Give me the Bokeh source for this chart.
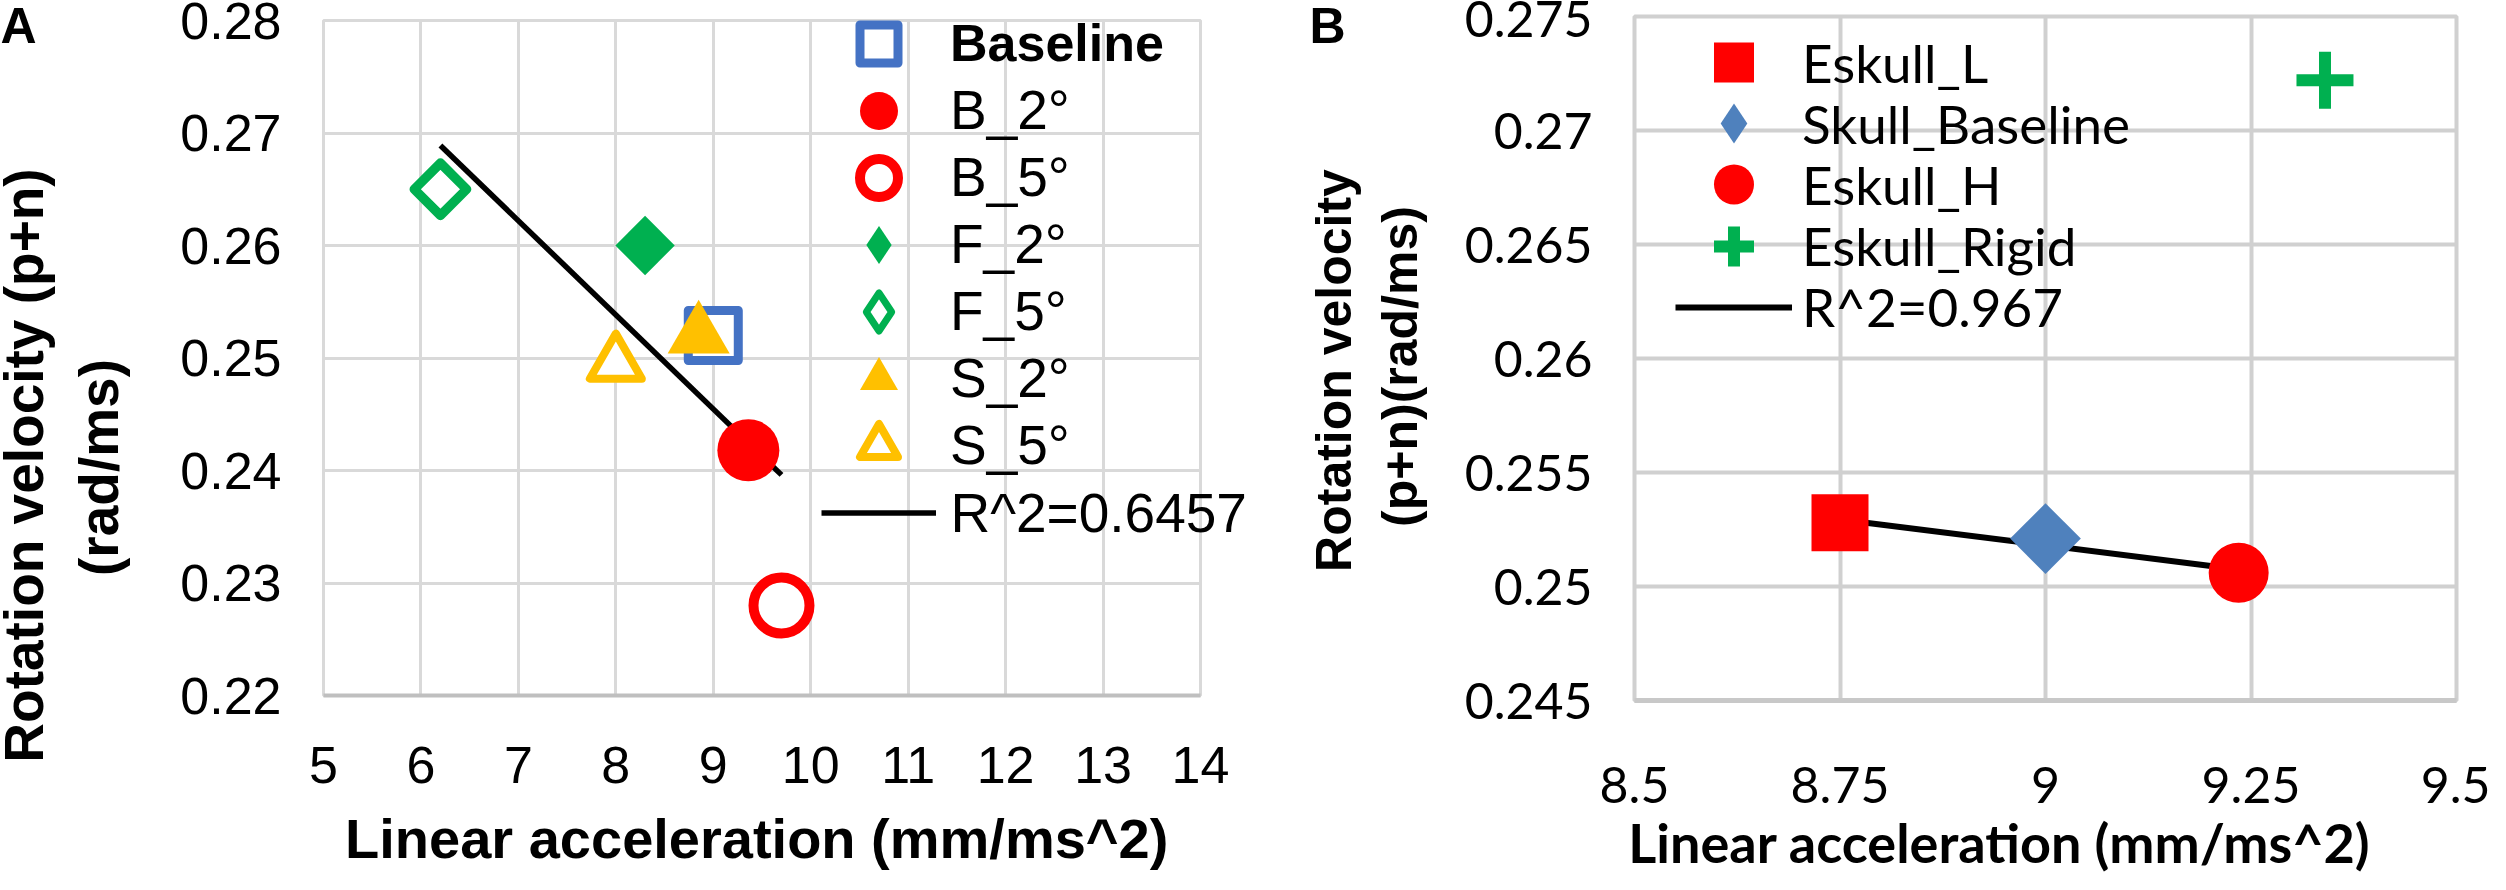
import numpy as np
from bokeh.plotting import figure
from bokeh.models import (Range1d, FixedTicker, CustomJSTickFormatter, Legend,
                          LegendItem, Label, GridBox)
from bokeh.embed import file_html
from bokeh.resources import INLINE

# ---------------- data: panel A ----------------
a_names = ["Baseline", "B_2°", "B_5°", "F_2°", "F_5°", "S_2°", "S_5°"]
a_accel = [9.0, 9.36, 9.7, 8.3, 6.2, 8.85, 8.0]
a_velocity = [0.252, 0.2418, 0.228, 0.260, 0.265, 0.252, 0.2495]
a_fit_label = "R^2=0.6457"
a_x_ticks = [5, 6, 7, 8, 9, 10, 11, 12, 13, 14]
a_y_ticks = [0.22, 0.23, 0.24, 0.25, 0.26, 0.27, 0.28]

# ---------------- data: panel B ----------------
b_names = ["Eskull_L", "Skull_Baseline", "Eskull_H", "Eskull_Rigid"]
b_accel = [8.75, 9.0, 9.235, 9.34]
b_velocity = [0.2528, 0.2521, 0.2506, 0.2722]
b_fit_names = ["Eskull_L", "Skull_Baseline", "Eskull_H"]
b_fit_label = "R^2=0.967"
b_x_ticks = [8.5, 8.75, 9.0, 9.25, 9.5]
b_y_ticks = [0.245, 0.25, 0.255, 0.26, 0.265, 0.27, 0.275]

# ---------------- styles ----------------
BLUE_A, RED, GREEN, GOLD, BLUE_B = "#4472C4", "#FF0000", "#00B050", "#FFC000", "#4F81BD"
A_STYLE = {
    "Baseline": dict(marker="square", size=50, line_color=BLUE_A, fill_color="white", line_width=9, line_join="round"),
    "B_2°": dict(marker="circle", size=62, fill_color=RED, line_color=None),
    "B_5°": dict(marker="circle", size=56, fill_color="white", line_color=RED, line_width=10),
    "F_2°": dict(marker="square", size=42, angle=np.pi / 4, fill_color=GREEN, line_color=None),
    "F_5°": dict(marker="square", size=37, angle=np.pi / 4, fill_color="white", line_color=GREEN, line_width=9.5, line_join="round"),
    "S_2°": dict(marker="triangle", size=62, fill_color=GOLD, line_color=None),
    "S_5°": dict(marker="triangle", size=52, fill_color="white", line_color=GOLD, line_width=8, line_join="round"),
}
# diamond-shaped key glyphs (drawn under the rotated squares, so only the legend shows them)
A_KEY_STYLE = {
    "F_2°": dict(marker="diamond", size=40, fill_color=GREEN, line_color=None),
    "F_5°": dict(marker="diamond", size=40, fill_color="white", line_color=GREEN, line_width=7, line_join="round"),
}
B_STYLE = {
    "Eskull_L": dict(marker="square", size=57, fill_color=RED, line_color=None),
    "Skull_Baseline": dict(marker="square", size=50, angle=np.pi / 4, fill_color=BLUE_B, line_color=None),
    "Eskull_H": dict(marker="circle", size=60, fill_color=RED, line_color=None),
    "Eskull_Rigid": dict(marker="cross", size=57, line_color=GREEN, line_width=12),
}
B_KEY_STYLE = {
    "Skull_Baseline": dict(marker="diamond", size=40, fill_color=BLUE_B, line_color=None),
}

FONT_A = "Liberation Sans"
FONT_B = "Lato"
PAGE_W, PAGE_H, MARGIN = 2490, 874, 8


def no_frame_align(f):
    if "frame_align" in f.properties():
        f.frame_align = False


def style_axes(p, font, size, xstand, ystand, grid_color, grid_w, xticks, yticks, xline_color, xline_w):
    tick_fmt = CustomJSTickFormatter(code="return tick.toString();")
    p.xaxis.ticker = FixedTicker(ticks=xticks)
    p.yaxis.ticker = FixedTicker(ticks=yticks)
    p.xgrid.ticker = FixedTicker(ticks=xticks)
    p.ygrid.ticker = FixedTicker(ticks=yticks)
    for ax in p.axis:
        ax.formatter = tick_fmt
        ax.major_tick_line_color = None
        ax.minor_tick_line_color = None
        ax.major_tick_out = 0
        ax.major_tick_in = 0
        ax.minor_tick_out = 0
        ax.minor_tick_in = 0
        ax.major_label_text_font = font
        ax.major_label_text_font_size = size
        ax.major_label_text_color = "#000000"
    p.xaxis.major_label_standoff = xstand
    p.yaxis.major_label_standoff = ystand
    p.yaxis.axis_line_color = None
    p.xaxis.axis_line_color = xline_color
    p.xaxis.axis_line_width = xline_w
    for g in (p.xgrid, p.ygrid):
        g.grid_line_color = grid_color
        g.grid_line_width = grid_w
    p.outline_line_color = grid_color
    p.outline_line_width = grid_w
    p.background_fill_color = "white"
    p.border_fill_color = "white"


def legend_row(fig, frame_left_abs, frame_bottom_abs, label, renderer, left_abs, yc_abs,
               gw, gh, standoff, font, size, style="normal"):
    fig.add_layout(Legend(items=[LegendItem(label=label, renderers=[renderer])],
                          location=(left_abs - frame_left_abs, frame_bottom_abs - (yc_abs + gh / 2)),
                          glyph_width=gw, glyph_height=gh, label_standoff=standoff,
                          padding=0, margin=0, spacing=0, border_line_color=None,
                          background_fill_alpha=0, label_text_font=font, label_text_font_size=size,
                          label_text_font_style=style, label_text_color="#000000"))


# ======================= Panel A =======================
A_LEFT, A_RIGHT, A_TOP, A_BOTTOM = 323, 72, 20, 179
pa = figure(width=1272, height=PAGE_H, x_range=Range1d(5, 14), y_range=Range1d(0.22, 0.28),
            output_backend="svg", toolbar_location=None,
            min_border_left=A_LEFT, min_border_right=A_RIGHT, min_border_top=A_TOP, min_border_bottom=A_BOTTOM)
no_frame_align(pa)
style_axes(pa, FONT_A, "52px", 51, 42, "#d9d9d9", 3, a_x_ticks, a_y_ticks, "#bfbfbf", 4)

fit_a = np.polyfit(a_accel, a_velocity, 1)
fx_a = [min(a_accel), max(a_accel)]
trend_a = pa.line(fx_a, list(np.polyval(fit_a, fx_a)), line_color="black", line_width=5.5)
a_key = {}
for name, xv, yv in zip(a_names, a_accel, a_velocity):
    if name in A_KEY_STYLE:
        a_key[name] = pa.scatter([xv], [yv], **A_KEY_STYLE[name])
    r = pa.scatter([xv], [yv], **A_STYLE[name])
    a_key.setdefault(name, r)

fl_a, fb_a = MARGIN + A_LEFT, MARGIN + PAGE_H - A_BOTTOM
A_ROW0, A_PITCH = 51, 67
for k, name in enumerate(a_names):
    legend_row(pa, fl_a, fb_a, name, a_key[name], 829, A_ROW0 + A_PITCH * k, 115, 95, 14, FONT_A,
               "52px" if k == 0 else "55px", "bold" if k == 0 else "normal")
legend_row(pa, fl_a, fb_a, " ", trend_a, 829, A_ROW0 + A_PITCH * len(a_names), 115, 95, 14, FONT_A, "55px")

# ======================= Panel B =======================
B_LEFT, B_RIGHT, B_TOP, B_BOTTOM = 362, 34, 16, 174
pb = figure(width=1218, height=PAGE_H, x_range=Range1d(8.5, 9.5), y_range=Range1d(0.245, 0.275),
            output_backend="svg", toolbar_location=None,
            min_border_left=B_LEFT, min_border_right=B_RIGHT, min_border_top=B_TOP, min_border_bottom=B_BOTTOM)
no_frame_align(pb)
style_axes(pb, FONT_B, "50px", 66, 42, "#d0d0d0", 4, b_x_ticks, b_y_ticks, "#c8c8c8", 5)

fit_idx = [b_names.index(n) for n in b_fit_names]
fxs_b = [b_accel[i] for i in fit_idx]
fys_b = [b_velocity[i] for i in fit_idx]
fit_b = np.polyfit(fxs_b, fys_b, 1)
fx_b = [min(fxs_b), max(fxs_b)]
trend_b = pb.line(fx_b, list(np.polyval(fit_b, fx_b)), line_color="black", line_width=6)
b_key = {}
for name, xv, yv in zip(b_names, b_accel, b_velocity):
    if name in B_KEY_STYLE:
        b_key[name] = pb.scatter([xv], [yv], **B_KEY_STYLE[name])
    r = pb.scatter([xv], [yv], **B_STYLE[name])
    b_key.setdefault(name, r)

fl_b, fb_b = MARGIN + 1272 + B_LEFT, MARGIN + PAGE_H - B_BOTTOM
B_ROW0, B_PITCH = 70, 61.2
for k, name in enumerate(b_names):
    legend_row(pb, fl_b, fb_b, name, b_key[name], 1683, B_ROW0 + B_PITCH * k, 117, 100, 10, FONT_B, "53px")
legend_row(pb, fl_b, fb_b, b_fit_label, trend_b, 1683, B_ROW0 + B_PITCH * len(b_names), 117, 100, 10, FONT_B, "53px")

# ============ transparent overlay for titles and panel letters ============
po = figure(width=PAGE_W, height=PAGE_H, x_range=Range1d(0, 1), y_range=Range1d(0, 1),
            x_axis_type=None, y_axis_type=None, min_border=0, toolbar_location=None,
            output_backend="svg", outline_line_color=None,
            background_fill_alpha=0, border_fill_alpha=0)
no_frame_align(po)


def text(t, x_abs, y_abs, font, size, style="normal", angle=0.0, align="center"):
    po.add_layout(Label(x=x_abs - MARGIN, y=PAGE_H + MARGIN - y_abs, x_units="screen", y_units="screen",
                        text=t, angle=angle, text_align=align, text_baseline="middle",
                        text_font=font, text_font_size=size, text_font_style=style,
                        text_color="#000000"))


# panel A texts
text("A", 26, 33, FONT_A, "50px", "bold")
text("Rotation velocity (p+n)", 31, 473, FONT_A, "55px", "bold", np.pi / 2)
text("(rad/ms)", 106, 475, FONT_A, "55px", "bold", np.pi / 2)
text("Linear acceleration  (mm/ms^2)", 772, 846, FONT_A, "56px", "bold")
text(a_fit_label, 958, A_ROW0 + A_PITCH * len(a_names), FONT_A, "55px", align="left")

# panel B texts
text("B", 1335, 33, FONT_A, "50px", "bold")
text("Rotation velocity", 1341, 378, FONT_A, "50px", "bold", np.pi / 2)
text("(p+n)(rad/ms)", 1407, 374, FONT_A, "50px", "bold", np.pi / 2)
text("Linear acceleration (mm/ms^2)", 2007, 850, FONT_B, "54px", "bold")

layout = GridBox(children=[(pa, 0, 0), (pb, 0, 1), (po, 0, 0, 1, 2)])
open("out.html", "w").write(file_html(layout, INLINE))
